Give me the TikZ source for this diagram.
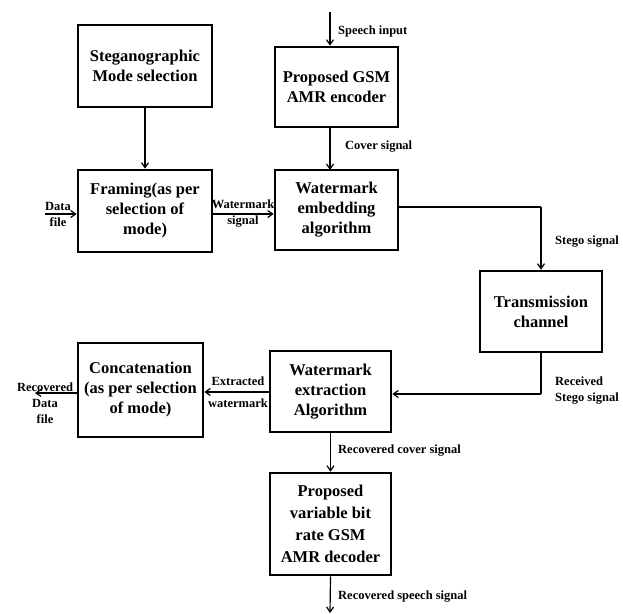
\documentclass[tikz,border=0pt]{standalone}
\usepackage{fontspec}
\setmainfont{Liberation Serif}
\usetikzlibrary{arrows.meta,calc}
\begin{document}
\begin{tikzpicture}[x=1pt,y=-1pt,
  blk/.style={draw,line width=2.6pt,align=center,inner sep=0pt,
    font=\fontsize{16.5}{20}\selectfont\bfseries},
  lbl/.style={font=\fontsize{12.5}{16}\selectfont\bfseries,inner sep=0pt,align=center},
  con/.style={line width=1.2pt,-{Straight Barb[length=5pt,width=7pt]}},
  wire/.style={line width=1.2pt}]
\useasboundingbox (0,0) rectangle (623,613);
% blocks
\node[blk,minimum width=134pt,minimum height=82pt] (stego) at (145,66) {Steganographic\\Mode selection};
\node[blk,minimum width=134pt,minimum height=82pt] (fram) at (145,211) {Framing(as per\\selection of\\mode)};
\node[blk,minimum width=123pt,minimum height=80pt] (enc) at (336.5,87) {Proposed GSM\\AMR encoder};
\node[blk,minimum width=123pt,minimum height=80pt] (emb) at (336.5,210) {Watermark\\embedding\\algorithm};
\node[blk,minimum width=122pt,minimum height=81pt] (trans) at (541,311.5) {Transmission\\channel};
\node[blk,minimum width=121pt,minimum height=81pt] (extr) at (330.5,391.5) {Watermark\\extraction\\Algorithm};
\node[blk,minimum width=125pt,minimum height=94pt] (conc) at (140.5,390) {Concatenation\\(as per selection\\of mode)};
\node[blk,minimum width=121pt,minimum height=102pt,font=\fontsize{16.5}{22}\selectfont\bfseries] (dec) at (330.5,524) {Proposed\\variable bit\\rate GSM\\AMR decoder};
% free ends
\coordinate (sin) at (330,12);
\coordinate (dfin) at (45,214);
\coordinate (rdout) at (35,393);
\coordinate (sout) at (330,613);
\coordinate (bend1) at (541,207);
\coordinate (bend2) at (541,394);
% connectors
\draw[con] (sin) -- (sin |- enc.north);
\draw[con] (stego.south) -- (fram.north);
\draw[con] (330,127) -- (330,170);
\draw[con] (dfin) -- (dfin -| fram.west);
\draw[con] (fram.east |- 0,214) -- (emb.west |- 0,214);
\draw[wire] (emb.east |- bend1) -- (bend1);
\draw[con] (bend1) -- (trans.north);
\draw[wire] (trans.south) -- (bend2);
\draw[con] (bend2) -- (extr.east |- bend2);
\draw[con] (extr.west |- 0,392) -- (conc.east |- 0,392);
\draw[con] (conc.west |- rdout) -- (rdout);
\draw[con] (extr.south) -- (dec.north);
\draw[con] (dec.south) -- (sout);
% labels
\node[lbl,anchor=west] (l1) at (338,31) {Speech input};
\node[lbl,anchor=west] (l2) at (345,147) {Cover signal};
\node[lbl] (l3) at (58,214) {Data\\file};
\node[lbl] (l4) at (243,214) {Watermark\\signal};
\node[lbl,anchor=west] (l5) at (555,242) {Stego signal};
\node[lbl,anchor=west,align=left] (l6) at (555,391) {Received\\Stego signal};
\node[lbl] (l7) at (238,392) {Extracted\\[6pt]watermark};
\node[lbl] (l8) at (45,403) {Recovered\\Data\\file};
\node[lbl,anchor=west] (l9) at (338,451) {Recovered cover signal};
\node[lbl,anchor=west] (l10) at (338,597) {Recovered speech signal};
\end{tikzpicture}
\end{document}
